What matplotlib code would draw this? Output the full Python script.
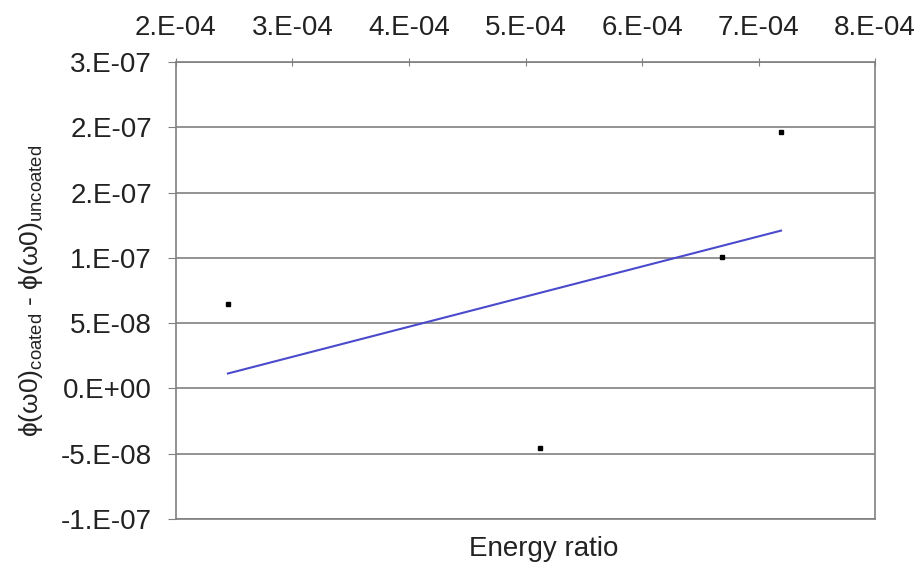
import numpy as np
import matplotlib
matplotlib.use('Agg')
import matplotlib.pyplot as plt

plt.rcParams['font.family'] = ['Liberation Sans', 'DejaVu Sans']

# measured points (energy ratio vs phase difference)
energy_ratio = [2.446e-4, 5.124e-4, 6.687e-4, 7.193e-4]
phase_diff = [6.43e-8, -4.60e-8, 1.003e-7, 1.96e-7]

x_ticks = [2e-4, 3e-4, 4e-4, 5e-4, 6e-4, 7e-4, 8e-4]
x_labels = ['2.E-04', '3.E-04', '4.E-04', '5.E-04', '6.E-04', '7.E-04', '8.E-04']
y_ticks = [-1e-7, -5e-8, 0, 5e-8, 1e-7, 1.5e-7, 2e-7, 2.5e-7]
y_labels = ['-1.E-07', '-5.E-08', '0.E+00', '5.E-08', '1.E-07', '2.E-07', '2.E-07', '3.E-07']

fig = plt.figure(figsize=(9.18, 5.67), dpi=100)
ax = fig.add_axes([0.1917, 0.0847, 0.7615, 0.806])

gray = '#808080'
for y in y_ticks:
    ax.axhline(y, color=gray, lw=1.2, zorder=1)

# linear trendline through the points
slope, icpt = np.polyfit(energy_ratio, phase_diff, 1)
xs = np.array([min(energy_ratio), max(energy_ratio)])
ax.plot(xs, slope * xs + icpt, color='#4a4acc', lw=1.5, zorder=3)

ax.plot(energy_ratio, phase_diff, 's', color='black', ms=2.5, zorder=4)

ax.set_xlim(2e-4, 8e-4)
ax.set_ylim(-1e-7, 2.5e-7)

ax.xaxis.tick_top()
ax.set_xticks(x_ticks)
ax.set_xticklabels(x_labels, fontsize=20, color='#222222')
ax.set_yticks(y_ticks)
ax.set_yticklabels(y_labels, fontsize=20, color='#222222')
ax.tick_params(axis='x', direction='inout', length=6, color=gray, pad=12)
ax.tick_params(axis='y', direction='out', length=5.8, color=gray, pad=11.5)

for s in ax.spines.values():
    s.set_color(gray)
    s.set_linewidth(1.2)

ax.set_xlabel('Energy ratio', fontsize=20, color='#222222')
ax.xaxis.set_label_position('bottom')
ax.xaxis.labelpad = 12
ax.xaxis.label.set_x(0.526)
ax.set_ylabel(r'ϕ(ω0)$_{\mathregular{coated}}$ - ϕ(ω0)$_{\mathregular{uncoated}}$',
              fontsize=19, color='#222222')
ax.yaxis.set_label_coords(-0.187, 0.5)

fig.savefig('out.png', dpi=100)
